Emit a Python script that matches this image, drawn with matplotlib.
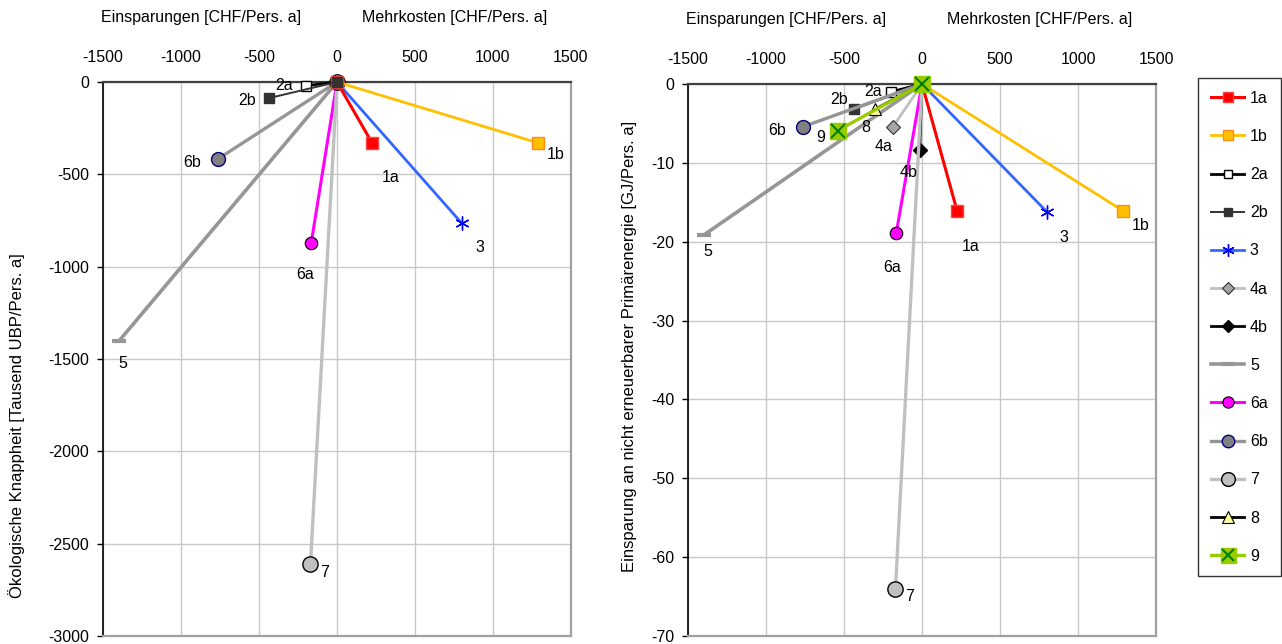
import numpy as np
import matplotlib
matplotlib.use("Agg")
import matplotlib.pyplot as plt
from matplotlib.lines import Line2D
from matplotlib.legend_handler import HandlerTuple

plt.rcParams['font.family'] = ['Liberation Sans', 'DejaVu Sans']
plt.rcParams['font.size'] = 11.5
plt.rcParams['axes.unicode_minus'] = False

FS = 11.5

# ---------------- data ----------------
series = ["1a", "1b", "2a", "2b", "3", "4a", "4b", "5", "6a", "6b", "7", "8", "9"]
# cost difference [CHF/Pers. a] (negative = savings)
kosten = [225, 1290, -200, -435, 800, -185, -15, -1395, -165, -760, -170, -300, -540]
# ecological scarcity [Tausend UBP/Pers. a] (None = not shown)
ubp = [-330, -330, -20, -87, -765, None, None, -1400, -870, -415, -2610, None, None]
# non-renewable primary energy [GJ/Pers. a]
energie = [-16.1, -16.1, -1.0, -3.2, -16.2, -5.4, -8.4, -19.1, -18.9, -5.4, -64.0, -3.2, -5.9]

xticks = [-1500, -1000, -500, 0, 500, 1000, 1500]
yticks_left = [0, -500, -1000, -1500, -2000, -2500, -3000]
yticks_right = [0, -10, -20, -30, -40, -50, -60, -70]

# ---------------- styles ----------------
styles = {
    "1a": dict(color="#FF0000", lw=2.2, marker="s", ms=8, mfc="#FF0000", mec="#FF4040"),
    "1b": dict(color="#FFC000", lw=2.0, marker="s", ms=8, mfc="#FFC000", mec="#FF8C1A"),
    "2a": dict(color="#000000", lw=2.0, marker="s", ms=7, mfc="#FFFFFF", mec="#000000"),
    "2b": dict(color="#333333", lw=1.4, marker="s", ms=7, mfc="#333333", mec="#333333"),
    "3":  dict(color="#3366FF", lw=2.0, marker=(6, 2, 0), ms=10, mfc="#0000FF", mec="#0000FF", mew=1.0),
    "4a": dict(color="#C0C0C0", lw=2.0, marker="D", ms=7, mfc="#A6A6A6", mec="#333333", mew=0.8),
    "4b": dict(color="#000000", lw=2.0, marker="D", ms=7, mfc="#000000", mec="#000000"),
    "5":  dict(color="#969696", lw=2.6, marker="_", ms=10, mfc="#969696", mec="#969696", mew=3),
    "6a": dict(color="#FF00FF", lw=2.2, marker="o", ms=9, mfc="#FF00FF", mec="#000000", mew=0.8),
    "6b": dict(color="#969696", lw=2.4, marker="o", ms=10, mfc="#808080", mec="#000080", mew=1.0),
    "7":  dict(color="#C0C0C0", lw=2.4, marker="o", ms=11, mfc="#C0C0C0", mec="#000000", mew=1.0),
    "8":  dict(color="#000000", lw=2.0, marker="^", ms=9, mfc="#FFFF99", mec="#000000", mew=0.8),
    "9":  dict(color="#99CC00", lw=2.4, marker="s", ms=12, mfc="#99CC00", mec="#99CC00"),
}

# label offsets in pixels (dx, dy)
off_left = {"1a": (19, -35), "1b": (17, -12), "2a": (-22, 0), "2b": (-22, -2),
            "3": (18, -24), "5": (3, -23), "6a": (-6, -32), "6b": (-26, -4), "7": (14, -9)}
off_right = {"1a": (14, -36), "1b": (17, -15), "2a": (-18, 0), "2b": (-15, 10),
             "3": (17, -26), "4a": (-10, -20), "4b": (-11, -22), "5": (3, -17),
             "6a": (-4, -34), "6b": (-26, -4), "7": (14, -8), "8": (-9, -18), "9": (-17, -7)}

W, H = 1282, 644
fig = plt.figure(figsize=(W / 100, H / 100), dpi=100)

ax1 = fig.add_axes([103 / W, (H - 636) / H, 468 / W, 554 / H])
ax2 = fig.add_axes([688 / W, (H - 636) / H, 468 / W, 552 / H])


def style_axis(ax, yticks, ylabel, ylabel_pos):
    ax.set_xlim(-1500, 1500)
    ax.set_ylim(min(yticks), 0)
    ax.set_xticks(xticks)
    ax.set_yticks(yticks)
    ax.xaxis.tick_top()
    ax.grid(True, color="#C8C8C8", lw=1.0)
    ax.set_axisbelow(True)
    ax.tick_params(axis="x", length=0, pad=12, labelsize=FS)
    ax.tick_params(axis="y", length=4, width=1, direction="out", pad=6, labelsize=FS)
    ax.spines["top"].set_color("#404040")
    ax.spines["top"].set_linewidth(1.6)
    ax.spines["left"].set_color("#000000")
    ax.spines["left"].set_linewidth(1.2)
    ax.spines["bottom"].set_color("#A0A0A0")
    ax.spines["bottom"].set_linewidth(1.6)
    ax.spines["right"].set_color("#A0A0A0")
    ax.spines["right"].set_linewidth(1.6)
    ax.set_ylabel(ylabel, fontsize=12)
    ax.yaxis.set_label_coords(*ylabel_pos)


style_axis(ax1, yticks_left, "Ökologische Knappheit [Tausend UBP/Pers. a]", (-0.166, 0.38))
style_axis(ax2, yticks_right, "Einsparung an nicht erneuerbarer Primärenergie [GJ/Pers. a]", (-0.109, 0.525))

# headings above the axes
for ax in (ax1, ax2):
    ax.text(0.21, 1.116, "Einsparungen [CHF/Pers. a]", transform=ax.transAxes,
            ha="center", va="center", fontsize=FS)
    ax.text(0.752, 1.116, "Mehrkosten [CHF/Pers. a]", transform=ax.transAxes,
            ha="center", va="center", fontsize=FS)

# z-order at origin
z_left = {"3": 3, "6b": 4, "7": 4, "5": 3, "6a": 3, "1b": 5, "1a": 6, "2a": 5, "2b": 7}


def draw(ax, yvals, offsets, zmap=None):
    handles = {}
    for i, s in enumerate(series):
        yv = yvals[i]
        st = dict(styles[s])
        lw = st.pop("lw")
        color = st.pop("color")
        if yv is None:
            ln = Line2D([], [], color=color, lw=lw, **st)
            handles[s] = ln
            continue
        z = (zmap or {}).get(s, 3 + i * 0.01)
        ln, = ax.plot([0, kosten[i]], [0, yv], color=color, lw=lw, zorder=z,
                      clip_on=False, **st)
        handles[s] = ln
        if s == "9":
            ax.plot([0, kosten[i]], [0, yv], ls="none", marker="x", ms=10, mec="#008000",
                    mew=1.5, zorder=z + 0.01, clip_on=False)
        dx, dy = offsets[s]
        ax.annotate(s, (kosten[i], yv), xytext=(dx, dy), textcoords="offset pixels",
                    ha="center", va="center", fontsize=FS, zorder=10)
    return handles


draw(ax1, ubp, off_left, z_left)
handles = draw(ax2, energie, off_right)

# legend
leg_handles = []
for s in series:
    h = handles[s]
    if s == "9":
        hx = Line2D([], [], ls="none", marker="x", ms=10, mec="#008000", mew=1.5)
        leg_handles.append((h, hx))
    else:
        leg_handles.append(h)

leg = fig.legend(leg_handles, series, loc="upper left",
                 bbox_to_anchor=(1198 / W, 1 - 78 / H), frameon=True, fancybox=False,
                 edgecolor="#000000", fontsize=FS, handlelength=2.1, handletextpad=0.35,
                 labelspacing=1.45, borderpad=0.8, borderaxespad=0,
                 handler_map={tuple: HandlerTuple(ndivide=1, pad=0)}, markerscale=0.9)
leg.get_frame().set_linewidth(1.0)

fig.savefig("out.png", dpi=100)
